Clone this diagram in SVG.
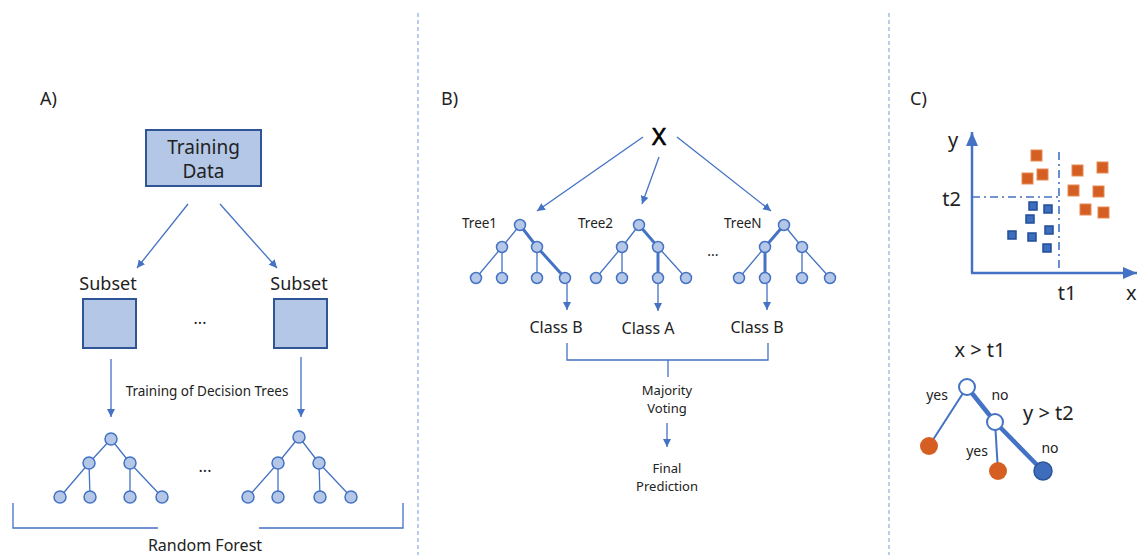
<svg xmlns="http://www.w3.org/2000/svg" width="1137" height="555" viewBox="0 0 1137 555">
<defs>
<style>
text{font-family:"Noto Sans","Open Sans","Liberation Sans",sans-serif;fill:#222}
.ln{stroke:#4472C4;stroke-width:1.3;fill:none}
.bold{stroke:#4472C4;stroke-width:3;fill:none}
.nd{fill:#B4C7E7;stroke:#4472C4;stroke-width:1.5}
.box{fill:#B4C7E7;stroke:#2F5597;stroke-width:2}
.sep{stroke:#8FAADC;stroke-width:1.2;stroke-dasharray:4 3}
.or{fill:#D55F22;stroke:#E58A55;stroke-width:1}
.bl{fill:#3E6DBE;stroke:#1F4E99;stroke-width:1.5}
.dd{stroke:#4472C4;stroke-width:1.6;stroke-dasharray:8 4 2 4;fill:none}
</style>
<marker id="ar" markerUnits="userSpaceOnUse" markerWidth="10" markerHeight="10" refX="8" refY="4" orient="auto">
<path d="M0,0 L8,4 L0,8 Z" fill="#4472C4"/>
</marker>
<marker id="ax" markerUnits="userSpaceOnUse" markerWidth="16" markerHeight="16" refX="14" refY="6" orient="auto">
<path d="M0,0 L14,6 L0,12 Z" fill="#4472C4"/>
</marker>
</defs>
<rect width="1137" height="555" fill="#fff"/>
<line class="sep" x1="418" y1="13" x2="418" y2="555"/>
<line class="sep" x1="889" y1="13" x2="889" y2="555"/>

<!-- Panel A -->
<g id="panelA">
<text x="40" y="105" font-size="18">A)</text>
<g id="trainingData">
<rect class="box" x="146" y="130" width="115" height="56"/>
<text x="203.5" y="154" font-size="19" text-anchor="middle">Training</text>
<text x="203.5" y="178" font-size="19" text-anchor="middle">Data</text>
</g>
<g id="subsetL">
<text x="108" y="290" font-size="18" text-anchor="middle">Subset</text>
<rect class="box" x="83" y="299" width="53" height="49"/>
</g>
<g id="subsetR">
<text x="299" y="290" font-size="18" text-anchor="middle">Subset</text>
<rect class="box" x="274" y="299" width="53" height="49"/>
</g>
<text x="200" y="324" font-size="16" text-anchor="middle">...</text>
<text x="207" y="396" font-size="13.5" text-anchor="middle">Training of Decision Trees</text>
<g id="treeA1">
<path class="ln" d="M111,439 L89,463 M111,439 L130,463 M89,463 L60,497 M89,463 L90,497 M130,463 L130,497 M130,463 L162,497"/>
<circle class="nd" cx="111" cy="439" r="6"/>
<circle class="nd" cx="89" cy="463" r="6"/>
<circle class="nd" cx="130" cy="463" r="6"/>
<circle class="nd" cx="60" cy="497" r="6"/>
<circle class="nd" cx="90" cy="497" r="6"/>
<circle class="nd" cx="130" cy="497" r="6"/>
<circle class="nd" cx="162" cy="497" r="6"/>
</g>
<g id="treeA2">
<path class="ln" d="M299,437 L278,463 M299,437 L319,463 M278,463 L248,497 M278,463 L278,497 M319,463 L320,497 M319,463 L351,497"/>
<circle class="nd" cx="299" cy="437" r="6"/>
<circle class="nd" cx="278" cy="463" r="6"/>
<circle class="nd" cx="319" cy="463" r="6"/>
<circle class="nd" cx="248" cy="497" r="6"/>
<circle class="nd" cx="278" cy="497" r="6"/>
<circle class="nd" cx="320" cy="497" r="6"/>
<circle class="nd" cx="351" cy="497" r="6"/>
</g>
<text x="205" y="472" font-size="16" text-anchor="middle">...</text>
<text x="205" y="551" font-size="16" text-anchor="middle">Random Forest</text>
</g>

<!-- Panel B -->
<g id="panelB">
<text x="441" y="105" font-size="18">B)</text>
<text id="X" x="659" y="145" font-size="24" text-anchor="middle" style="fill:#000;stroke:#000;stroke-width:0.6">X</text>
<g id="tree1">
<text x="462" y="228" font-size="13.5">Tree1</text>
<path class="ln" d="M520,225 L502,247 M502,247 L476,278 M502,247 L502,278 M537,247 L537,278"/>
<path class="bold" d="M520,225 L537,247 L565,278"/>
<circle class="nd" cx="520" cy="225" r="5.5"/>
<circle class="nd" cx="502" cy="247" r="5.5"/>
<circle class="nd" cx="537" cy="247" r="5.5"/>
<circle class="nd" cx="476" cy="278" r="5.5"/>
<circle class="nd" cx="502" cy="278" r="5.5"/>
<circle class="nd" cx="537" cy="278" r="5.5"/>
<circle class="nd" cx="565" cy="278" r="5.5"/>
</g>
<g id="tree2">
<text x="578" y="228" font-size="13.5">Tree2</text>
<path class="ln" d="M639,225 L622,247 M622,247 L596,278 M622,247 L622,278 M658,247 L686,278"/>
<path class="bold" d="M639,225 L658,247 L658,278"/>
<circle class="nd" cx="639" cy="225" r="5.5"/>
<circle class="nd" cx="622" cy="247" r="5.5"/>
<circle class="nd" cx="658" cy="247" r="5.5"/>
<circle class="nd" cx="596" cy="278" r="5.5"/>
<circle class="nd" cx="622" cy="278" r="5.5"/>
<circle class="nd" cx="658" cy="278" r="5.5"/>
<circle class="nd" cx="686" cy="278" r="5.5"/>
</g>
<text x="713" y="256" font-size="14" text-anchor="middle">...</text>
<g id="treeN">
<text x="724" y="228" font-size="13.5">TreeN</text>
<path class="ln" d="M784,225 L802,247 M765,247 L739,278 M802,247 L802,278 M802,247 L830,278"/>
<path class="bold" d="M784,225 L765,247 L765,278"/>
<circle class="nd" cx="784" cy="225" r="5.5"/>
<circle class="nd" cx="765" cy="247" r="5.5"/>
<circle class="nd" cx="802" cy="247" r="5.5"/>
<circle class="nd" cx="739" cy="278" r="5.5"/>
<circle class="nd" cx="765" cy="278" r="5.5"/>
<circle class="nd" cx="802" cy="278" r="5.5"/>
<circle class="nd" cx="830" cy="278" r="5.5"/>
</g>
<text x="556" y="333" font-size="16" text-anchor="middle">Class B</text>
<text x="648" y="334" font-size="16" text-anchor="middle">Class A</text>
<text x="757" y="333" font-size="16" text-anchor="middle">Class B</text>
<text x="667" y="395" font-size="13" text-anchor="middle">Majority</text>
<text x="667" y="413" font-size="13" text-anchor="middle">Voting</text>
<text x="667" y="473" font-size="13" text-anchor="middle">Final</text>
<text x="667" y="491" font-size="13" text-anchor="middle">Prediction</text>
</g>

<!-- Panel C -->
<g id="panelC">
<text x="910" y="105" font-size="18">C)</text>
<g id="scatter">
<line class="dd" x1="972" y1="197" x2="1058" y2="197"/>
<line class="dd" x1="1059" y1="152" x2="1059" y2="273"/>
<rect class="or" x="1031" y="150" width="11" height="11"/>
<rect class="or" x="1022" y="173" width="11" height="11"/>
<rect class="or" x="1037" y="169" width="11" height="11"/>
<rect class="or" x="1072" y="165" width="11" height="11"/>
<rect class="or" x="1097" y="162" width="11" height="11"/>
<rect class="or" x="1068" y="185" width="11" height="11"/>
<rect class="or" x="1093" y="186" width="11" height="11"/>
<rect class="or" x="1080" y="204" width="11" height="11"/>
<rect class="or" x="1098" y="207" width="11" height="11"/>
<rect class="bl" x="1029" y="202" width="8" height="8"/>
<rect class="bl" x="1044" y="205" width="8" height="8"/>
<rect class="bl" x="1026" y="215" width="8" height="8"/>
<rect class="bl" x="1045" y="226" width="8" height="8"/>
<rect class="bl" x="1008" y="231" width="8" height="8"/>
<rect class="bl" x="1028" y="233" width="8" height="8"/>
<rect class="bl" x="1043" y="244" width="8" height="8"/>
<path d="M972,273 L972,132" stroke="#4472C4" stroke-width="2.5" fill="none" marker-end="url(#ax)"/>
<path d="M971,273 L1137,273" stroke="#4472C4" stroke-width="2.5" fill="none" marker-end="url(#ax)"/>
<text x="953" y="147" font-size="20" text-anchor="middle">y</text>
<text x="961" y="206" font-size="20" text-anchor="end">t2</text>
<text x="1067" y="300" font-size="20" text-anchor="middle">t1</text>
<text x="1126" y="300" font-size="20">x</text>
</g>
<g id="decisionTree">
<text x="980" y="357" font-size="20" text-anchor="middle">x &gt; t1</text>
<line x1="967" y1="387" x2="929" y2="446" stroke="#4472C4" stroke-width="2"/>
<line x1="967" y1="387" x2="995" y2="422" stroke="#4472C4" stroke-width="4.5"/>
<line x1="995" y1="422" x2="998" y2="471" stroke="#4472C4" stroke-width="2"/>
<line x1="995" y1="422" x2="1043" y2="471" stroke="#4472C4" stroke-width="4.5"/>
<circle cx="967" cy="387" r="8" fill="#fff" stroke="#4472C4" stroke-width="2"/>
<circle cx="995" cy="422" r="8" fill="#fff" stroke="#4472C4" stroke-width="2"/>
<circle cx="929" cy="446" r="9" fill="#D55F22"/>
<circle cx="998" cy="471" r="9" fill="#D55F22"/>
<circle cx="1043" cy="471" r="9" fill="#3E6DBE" stroke="#2F5597" stroke-width="1.5"/>
<text x="937" y="400" font-size="14" text-anchor="middle">yes</text>
<text x="1000" y="400" font-size="14" text-anchor="middle">no</text>
<text x="1023" y="420" font-size="20">y &gt; t2</text>
<text x="977" y="456" font-size="14" text-anchor="middle">yes</text>
<text x="1050" y="453" font-size="14" text-anchor="middle">no</text>
</g>
</g>

<!-- Connectors -->
<g id="connectors">
<line class="ln" x1="188" y1="204" x2="137" y2="268" marker-end="url(#ar)"/>
<line class="ln" x1="220" y1="204" x2="277" y2="268" marker-end="url(#ar)"/>
<line class="ln" x1="111" y1="359" x2="111" y2="417" marker-end="url(#ar)"/>
<line class="ln" x1="301" y1="357" x2="301" y2="417" marker-end="url(#ar)"/>
<path class="ln" d="M13,503 L13,528 L158,528 M259,528 L403,528 L403,503"/>
<line class="ln" x1="643" y1="137" x2="537" y2="211" marker-end="url(#ar)"/>
<line class="ln" x1="659" y1="157" x2="642" y2="204" marker-end="url(#ar)"/>
<line class="ln" x1="677" y1="137" x2="771" y2="211" marker-end="url(#ar)"/>
<line class="ln" x1="567" y1="284" x2="567" y2="310" marker-end="url(#ar)"/>
<line class="ln" x1="658" y1="284" x2="658" y2="311" marker-end="url(#ar)"/>
<line class="ln" x1="767" y1="284" x2="767" y2="310" marker-end="url(#ar)"/>
<path class="ln" d="M567,343 L567,360 L768,360 L768,343 M668,360 L668,377"/>
<line class="ln" x1="667" y1="423" x2="667" y2="447" marker-end="url(#ar)"/>
</g>
</svg>
